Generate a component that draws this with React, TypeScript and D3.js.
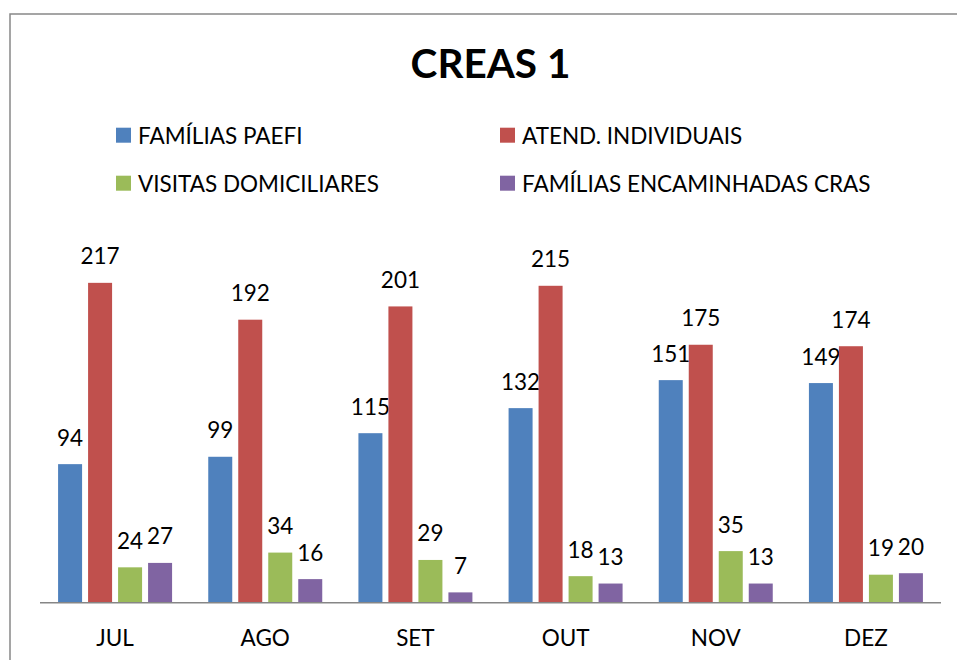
import React from "react";
import * as d3 from "d3";

const categories = ["JUL", "AGO", "SET", "OUT", "NOV", "DEZ"];
const seriesNames = [
  "FAMÍLIAS PAEFI",
  "ATEND. INDIVIDUAIS",
  "VISITAS DOMICILIARES",
  "FAMÍLIAS ENCAMINHADAS CRAS",
];
const familiasPaefi = [94, 99, 115, 132, 151, 149];
const atendIndividuais = [217, 192, 201, 215, 175, 174];
const visitasDomiciliares = [24, 34, 29, 18, 35, 19];
const familiasCras = [27, 16, 7, 13, 13, 20];
const colors = ["#4F81BD", "#C0504D", "#9BBB59", "#8064A2"];
const title = "CREAS 1";

const FONT = "Lato, 'Open Sans', sans-serif";
const FS = 22.5;

export default function App() {
  const W = 957;
  const H = 660;
  const series = [familiasPaefi, atendIndividuais, visitasDomiciliares, familiasCras];
  const plotLeft = 40;
  const plotRight = 941;
  const baseY = 602.7;
  const x0 = d3.scaleBand<string>().domain(categories).range([plotLeft, plotRight]).paddingInner(0).paddingOuter(0);
  const groupInner = 114;
  const x1 = d3
    .scaleBand<number>()
    .domain([0, 1, 2, 3])
    .range([0, groupInner])
    .paddingInner(0.2)
    .paddingOuter(0);
  const y = d3.scaleLinear().domain([0, 250]).range([baseY, baseY - 368.5]);
  const groupOffset = (x0.bandwidth() - groupInner) / 2;

  const legendPos = [
    { x: 116, y: 143.7 },
    { x: 500, y: 143.7 },
    { x: 116, y: 191.7 },
    { x: 500, y: 191.7 },
  ];

  return (
    <svg
      width={W}
      height={H}
      style={{ position: "absolute", left: 0, top: 0, background: "#fff" }}
      fontFamily={FONT}
    >
      <rect x={10} y={14} width={W + 20} height={H + 20} fill="#fff" stroke="#888" strokeWidth={1.5} />
      <text x={490.5} y={77.7} textAnchor="middle" fontWeight="bold" fontSize={40.5} fill="#000">
        {title}
      </text>
      {seriesNames.map((name, i) => (
        <g key={name}>
          <rect x={legendPos[i].x} y={legendPos[i].y - 16} width={15} height={15} fill={colors[i]} />
          <text x={legendPos[i].x + 22} y={legendPos[i].y} fontSize={FS} fill="#000">
            {name}
          </text>
        </g>
      ))}
      {categories.map((c, ci) => (
        <g key={c} transform={`translate(${(x0(c) as number) + groupOffset},0)`}>
          {series.map((s, si) => {
            const bx = x1(si) as number;
            const bw = x1.bandwidth();
            const v = s[ci];
            return (
              <g key={si}>
                <rect x={bx} y={y(v)} width={bw} height={baseY - y(v)} fill={colors[si]} />
                <text x={bx + bw / 2} y={y(v) - 18.5} textAnchor="middle" fontSize={FS} fill="#000">
                  {v}
                </text>
              </g>
            );
          })}
        </g>
      ))}
      <line x1={plotLeft} x2={plotRight} y1={baseY} y2={baseY} stroke="#868686" strokeWidth={1.5} />
      {categories.map((c) => (
        <text
          key={c}
          x={(x0(c) as number) + x0.bandwidth() / 2}
          y={646}
          textAnchor="middle"
          fontSize={FS}
          fill="#000"
        >
          {c}
        </text>
      ))}
    </svg>
  );
}
